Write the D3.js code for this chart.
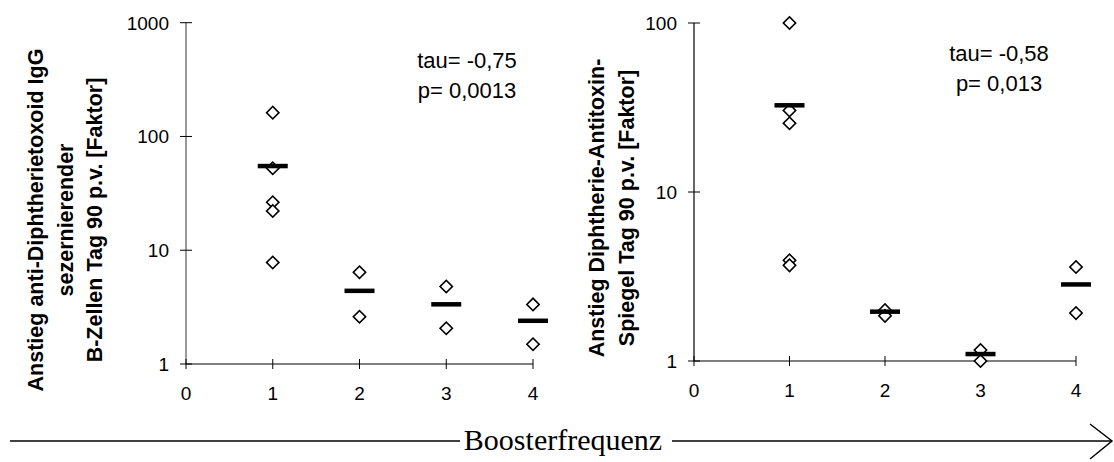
<!DOCTYPE html>
<html>
<head>
<meta charset="utf-8">
<script src="https://cdn.jsdelivr.net/npm/d3@7"></script>
<style>
  body { margin: 0; background: #fff; }
  svg { display: block; }
  text { font-family: "Liberation Sans", Arial, sans-serif; fill: #000; }
</style>
</head>
<body>
<div class="chart"></div>
<script>
// Booster frequency vs. rise factor, two panels
var svgWidth = 1114;
var svgHeight = 462;

var groups = [1, 2, 3, 4];

// left panel: B cells
var leftValues = [[162, 52.5, 26.4, 22.1, 7.8], [6.4, 2.6], [4.8, 2.06], [3.34, 1.49]];
var leftMeans = [55, 4.4, 3.35, 2.4];
var leftTicks = [1, 10, 100, 1000];
var leftStats = ["tau= -0,75", "p= 0,0013"];
var leftTitle = ["Anstieg anti-Diphtherietoxoid IgG", "sezernierender", "B-Zellen Tag 90 p.v. [Faktor]"];

// right panel: antitoxin level
var rightValues = [[100, 30.4, 25.5, 3.94, 3.68], [2.0, 1.85], [1.16, 1.0], [3.6, 1.92]];
var rightMeans = [32.6, 1.96, 1.1, 2.84];
var rightTicks = [1, 10, 100];
var rightStats = ["tau= -0,58", "p= 0,013"];
var rightTitle = ["Anstieg Diphtherie-Antitoxin-", "Spiegel Tag 90 p.v. [Faktor]"];

var xTicks = [0, 1, 2, 3, 4];

var svg = d3.select(".chart")
  .append("svg")
  .attr("width", svgWidth)
  .attr("height", svgHeight);

var diamond = d3.symbol().type(d3.symbolSquare).size(76);

function drawPanel(opt) {
  var x = d3.scaleLinear().domain([0, 4]).range([opt.x0, opt.x1]);
  var y = d3.scaleLog().domain(opt.yDomain).range([opt.yBottom, opt.yTop]);
  var g = svg.append("g");

  // y axis line + crossing ticks
  g.append("line")
    .attr("x1", x(0)).attr("x2", x(0))
    .attr("y1", y(opt.yDomain[0])).attr("y2", y(opt.yDomain[1]))
    .attr("stroke", opt.yColor).attr("stroke-width", 1.6);
  g.selectAll(".ytick").data(opt.yTicks).enter().append("line")
    .attr("x1", x(0) - 6).attr("x2", x(0) + 6)
    .attr("y1", d => y(d)).attr("y2", d => y(d))
    .attr("stroke", "#000").attr("stroke-width", 1);
  g.selectAll(".ylab").data(opt.yTicks).enter().append("text")
    .attr("x", x(0) - 17)
    .attr("y", d => y(d) + 7)
    .attr("text-anchor", "end")
    .style("font-size", "19px")
    .text(d => d);

  // x axis
  g.append("line")
    .attr("x1", x(0)).attr("x2", x(4))
    .attr("y1", y(opt.yDomain[0])).attr("y2", y(opt.yDomain[0]))
    .attr("stroke", "#000").attr("stroke-width", 1);
  g.selectAll(".xtick").data(xTicks).enter().append("line")
    .attr("x1", d => x(d)).attr("x2", d => x(d))
    .attr("y1", y(opt.yDomain[0]) - 5).attr("y2", y(opt.yDomain[0]) + 5)
    .attr("stroke", "#000").attr("stroke-width", 1);
  g.selectAll(".xlab").data(xTicks).enter().append("text")
    .attr("x", d => x(d))
    .attr("y", y(opt.yDomain[0]) + 36)
    .attr("text-anchor", "middle")
    .style("font-size", "19px")
    .text(d => d);

  // diamonds
  groups.forEach(function (grp, i) {
    g.selectAll(".pt" + i).data(opt.values[i]).enter().append("path")
      .attr("d", diamond)
      .attr("transform", d => `translate(${x(grp)},${y(d)}) rotate(45)`)
      .attr("fill", "#fff")
      .attr("stroke", "#000")
      .attr("stroke-width", 1.6);
  });

  // mean bars
  g.selectAll(".mean").data(opt.means).enter().append("rect")
    .attr("x", (d, i) => x(groups[i]) - 15)
    .attr("y", d => y(d) - 2.2)
    .attr("width", 30)
    .attr("height", 4.5)
    .attr("fill", "#000");

  // stats
  opt.stats.forEach(function (s, i) {
    g.append("text")
      .attr("x", opt.statX)
      .attr("y", opt.statY + i * 30)
      .attr("text-anchor", "middle")
      .style("font-size", "22px")
      .text(s);
  });

  // y title
  opt.title.forEach(function (t, i) {
    g.append("text")
      .attr("transform", `translate(${opt.titleX + i * opt.titleStep}, ${opt.titleY}) rotate(-90)`)
      .attr("text-anchor", "middle")
      .style("font-size", "21.5px")
      .style("font-weight", "bold")
      .text(t);
  });
}

drawPanel({
  x0: 186, x1: 533, yBottom: 364, yTop: 22.7, yDomain: [1, 1000],
  yTicks: leftTicks, values: leftValues, means: leftMeans, yColor: "#808080",
  stats: leftStats, statX: 467, statY: 68,
  title: leftTitle, titleX: 43, titleStep: 29.5, titleY: 220
});

drawPanel({
  x0: 694, x1: 1076, yBottom: 361, yTop: 23, yDomain: [1, 100],
  yTicks: rightTicks, values: rightValues, means: rightMeans, yColor: "#404040",
  stats: rightStats, statX: 999, statY: 61,
  title: rightTitle, titleX: 604, titleStep: 30, titleY: 208
});

// bottom arrow: Boosterfrequenz
var bottom = svg.append("g");
bottom.append("line")
  .attr("x1", 10).attr("x2", 460).attr("y1", 441).attr("y2", 441)
  .attr("stroke", "#000").attr("stroke-width", 1.5);
bottom.append("line")
  .attr("x1", 672).attr("x2", 1112).attr("y1", 441).attr("y2", 441)
  .attr("stroke", "#000").attr("stroke-width", 1.5);
bottom.append("path")
  .attr("d", "M1090,424 L1112,441 L1090,459")
  .attr("fill", "none").attr("stroke", "#000").attr("stroke-width", 1.5);
bottom.append("text")
  .attr("x", 563).attr("y", 450)
  .attr("text-anchor", "middle")
  .style("font-family", "'Liberation Serif', 'Times New Roman', serif")
  .style("font-size", "30px")
  .text("Boosterfrequenz");
</script>
</body>
</html>
